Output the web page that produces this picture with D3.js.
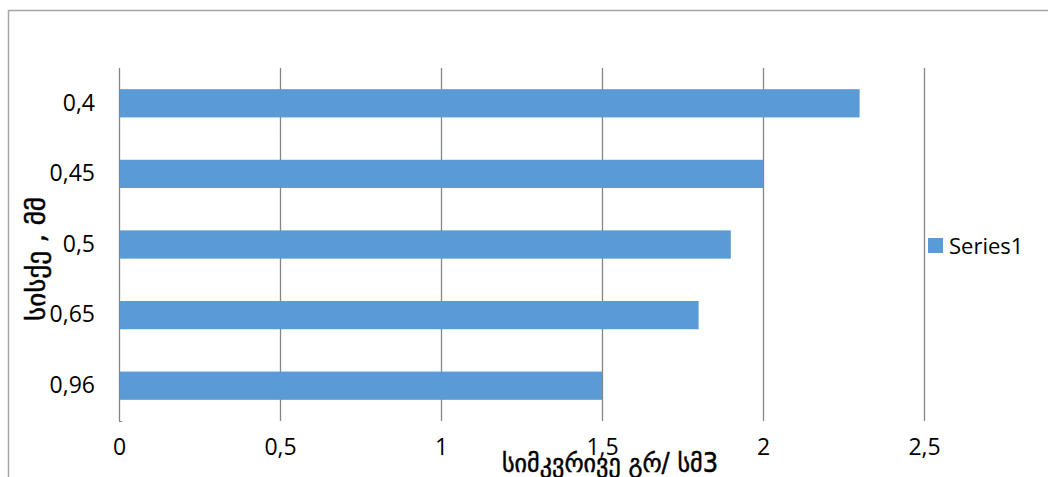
<!DOCTYPE html>
<html>
<head>
<meta charset="utf-8">
<script src="https://cdn.jsdelivr.net/npm/d3@7"></script>
<style>
  html, body { margin: 0; padding: 0; background: #fff; }
  svg { display: block; }
  text { font-family: "Open Sans", "DejaVu Sans", sans-serif; fill: #000; }
</style>
</head>
<body>
<svg id="chart" width="1048" height="477"></svg>
<script>
// Thickness categories (mm), top to bottom
const categories = ["0,4", "0,45", "0,5", "0,65", "0,96"];
// Density values (g/cm3)
const values = [2.3, 2.0, 1.9, 1.8, 1.5];
// Horizontal axis ticks
const xTicks = [0, 0.5, 1, 1.5, 2, 2.5];
const xTickLabels = ["0", "0,5", "1", "1,5", "2", "2,5"];
const seriesName = "Series1";
const xTitle = "სიმკვრივე გრ/ სმ3";
const yTitle = "სისქე , მმ";

const svg = d3.select("#chart");
const W = 1048, H = 477;
const plot = { left: 119, right: 924, top: 68, bottom: 421 };
const barColor = "#5B9BD5";
const gridColor = "#868686";

// Outer chart frame (runs past the right and bottom edges)
svg.append("rect")
  .attr("x", 8.5).attr("y", 10.5)
  .attr("width", W + 20).attr("height", H + 20)
  .attr("fill", "#fff")
  .attr("stroke", "#a6a6a6")
  .attr("stroke-width", 1.5);

const x = d3.scaleLinear().domain([0, 2.5]).range([plot.left, plot.right]);
const y = d3.scaleBand().domain(categories).range([plot.top, plot.bottom]).paddingInner(0.6).paddingOuter(0.3);

// Vertical gridlines
svg.append("g").selectAll("line")
  .data(xTicks)
  .join("line")
  .attr("x1", d => Math.round(x(d)) + 0.5)
  .attr("x2", d => Math.round(x(d)) + 0.5)
  .attr("y1", plot.top)
  .attr("y2", plot.bottom)
  .attr("stroke", gridColor)
  .attr("stroke-width", 1.3);

// Category axis baseline at bottom
svg.append("line")
  .attr("x1", plot.left).attr("x2", plot.left + 3)
  .attr("y1", plot.bottom + 0.5).attr("y2", plot.bottom + 0.5)
  .attr("stroke", gridColor);

// Bars
svg.append("g").selectAll("rect")
  .data(values)
  .join("rect")
  .attr("x", x(0) + 1)
  .attr("y", (d, i) => y(categories[i]))
  .attr("width", d => x(d) - x(0) - 1)
  .attr("height", y.bandwidth())
  .attr("fill", barColor);

// Bottom axis tick labels
const xAxis = d3.axisBottom(x)
  .tickValues(xTicks)
  .tickFormat((d, i) => xTickLabels[i])
  .tickSize(0)
  .tickPadding(0);
const gx = svg.append("g")
  .attr("transform", `translate(0, 439)`)
  .call(xAxis);
gx.select(".domain").remove();
gx.selectAll("text")
  .attr("dy", "0.71em")
  .style("font-size", "23px")
  .style("font-family", "'Open Sans', sans-serif")
  .attr("fill", "#000");

// Left axis category labels
const yAxis = d3.axisLeft(y).tickSize(0).tickPadding(24);
const gy = svg.append("g")
  .attr("transform", `translate(${plot.left}, 0)`)
  .call(yAxis);
gy.select(".domain").remove();
gy.selectAll("text")
  .style("font-size", "23px")
  .style("font-family", "'Open Sans', sans-serif")
  .attr("fill", "#000");

// Axis titles
svg.append("text")
  .attr("x", 610)
  .attr("y", 472)
  .attr("text-anchor", "middle")
  .style("font-size", "26px")
  .style("font-family", "'DejaVu Sans', sans-serif")
  .attr("stroke", "#000")
  .attr("stroke-width", 0.5)
  .attr("textLength", 216)
  .attr("lengthAdjust", "spacingAndGlyphs")
  .text(xTitle);

svg.append("text")
  .attr("transform", "translate(45, 259) rotate(-90)")
  .attr("text-anchor", "middle")
  .style("font-size", "26px")
  .style("font-family", "'DejaVu Sans', sans-serif")
  .attr("stroke", "#000")
  .attr("stroke-width", 0.5)
  .attr("textLength", 124)
  .attr("lengthAdjust", "spacingAndGlyphs")
  .text(yTitle);

// Legend
const lg = svg.append("g").attr("transform", "translate(928, 238)");
lg.append("rect").attr("width", 15).attr("height", 15).attr("fill", barColor);
lg.append("text")
  .attr("x", 21).attr("y", 8)
  .attr("dy", "0.35em")
  .style("font-size", "22px")
  .style("font-family", "'Open Sans', sans-serif")
  .text(seriesName);
</script>
</body>
</html>
